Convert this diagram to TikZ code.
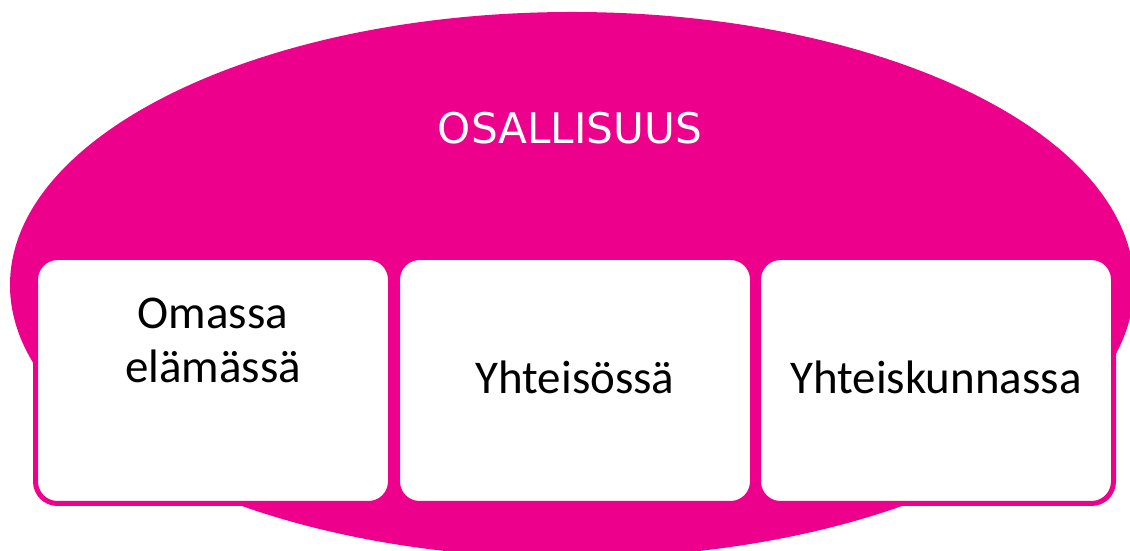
\documentclass[tikz,border=0pt]{standalone}
\usepackage{fontspec}
\setmainfont{Carlito}
\newfontfamily\titlefont{DejaVu Sans}
\usepackage{tikz}
\usetikzlibrary{positioning}
\definecolor{magc}{HTML}{EC008C}
\tikzset{
  box/.style={draw=magc,line width=0.125cm,rounded corners=0.55cm,fill=white,minimum width=8.875cm,minimum height=6.15cm,inner sep=0pt},
  lbl/.style={align=center,font=\fontsize{33.4}{38.4}\selectfont,text=black}
}
\begin{document}
\begin{tikzpicture}
\useasboundingbox (0,0) rectangle (28.25,13.775);
\clip (0,0) rectangle (28.25,13.775);
\fill[magc] (14.3,6.65) ellipse [x radius=14.05,y radius=6.825];
\node[font=\titlefont\fontsize{30}{36}\selectfont,text=white] (ttl) at (14.25,10.575) {OSALLISUUS};
\node[box] (b1) at (5.325,4.2625) {};
\node[box,right=0.05cm of b1] (b2) {};
\node[box,right=0.025cm of b2] (b3) {};
\node[lbl] (t1) at ([yshift=1.01cm]b1.center) {Omassa\\elämässä};
\node[lbl] (t2) at ([yshift=0.075cm]b2.center) {Yhteisössä};
\node[lbl] (t3) at ([yshift=0.075cm]b3.center) {Yhteiskunnassa};
\end{tikzpicture}
\end{document}
